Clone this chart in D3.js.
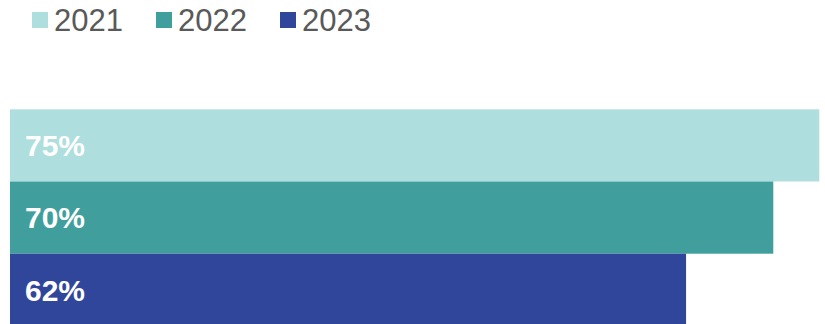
<!DOCTYPE html>
<html lang="en">
<head>
	<meta charset="UTF-8">
	<script src="https://d3js.org/d3.v7.min.js"></script>
	<title>bars by year</title>
	<style>
        body{ margin: 0; background: #fff; }
        svg text{ font-family: "Liberation Sans", Arial, sans-serif; }
	</style>
</head>
<body>
<svg id="chart" width="825" height="324"></svg>
<script>
	const years = ["2021", "2022", "2023"];
	const values = [75, 70, 62];
	const colors = ["#aedede", "#409f9c", "#2f469a"];

	const svg = d3.select("#chart");

	// plot area: bars are cut at the right edge of the plot
	const plotLeft = 10, plotRight = 819.3;
	const x = d3.scaleLinear().domain([0, 70]).range([plotLeft, 773.3]);
	const y = d3.scaleBand().domain(years).range([109.3, 325.9]).padding(0);

	svg.append("defs").append("clipPath")
		.attr("id", "plotClip")
		.append("rect")
		.attr("x", plotLeft)
		.attr("y", 0)
		.attr("width", plotRight - plotLeft)
		.attr("height", 324);

	const bars = svg.append("g").attr("clip-path", "url(#plotClip)");
	bars.selectAll("rect")
		.data(years)
		.join("rect")
		.attr("x", x(0))
		.attr("y", d => y(d))
		.attr("width", (d, i) => x(values[i]) - x(0))
		.attr("height", y.bandwidth())
		.attr("fill", (d, i) => colors[i]);

	svg.append("g")
		.selectAll("text")
		.data(years)
		.join("text")
		.attr("x", 25)
		.attr("y", d => y(d) + y.bandwidth() / 2)
		.attr("dy", "0.36em")
		.attr("fill", "#fff")
		.style("font-size", "30px")
		.style("font-weight", "bold")
		.text((d, i) => values[i] + "%");

	// legend
	const legend = svg.append("g")
		.selectAll("g")
		.data(years)
		.join("g")
		.attr("transform", (d, i) => "translate(" + (32 + i * 124) + ",12)");
	legend.append("rect")
		.attr("width", 16)
		.attr("height", 16)
		.attr("fill", (d, i) => colors[i]);
	legend.append("text")
		.attr("x", 22)
		.attr("y", 8)
		.attr("dy", "0.36em")
		.attr("fill", "#595959")
		.style("font-size", "31px")
		.text(d => d);
</script>
</body>
</html>
